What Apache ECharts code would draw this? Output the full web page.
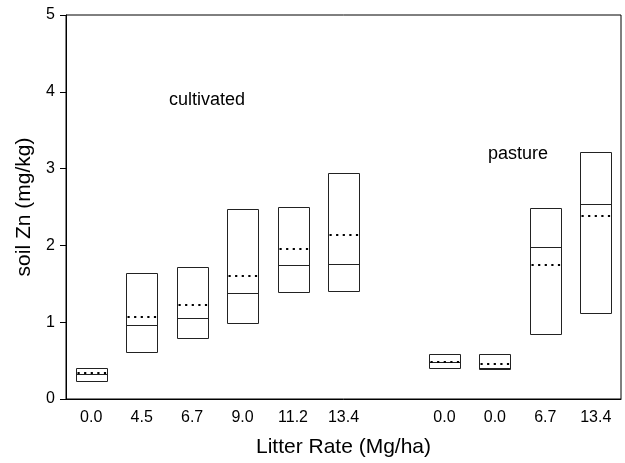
<!DOCTYPE html>
<html>
<head>
<meta charset="utf-8">
<script src="https://cdn.jsdelivr.net/npm/echarts@6/dist/echarts.min.js"></script>
<style>html,body{margin:0;padding:0;background:#fff}#c{width:625px;height:463px}</style>
</head>
<body>
<div id="c"></div>
<script>
// Categories (index 6 is the gap between cultivated and pasture groups)
var categories = ['0.0', '4.5', '6.7', '9.0', '11.2', '13.4', '', '0.0', '0.0', '6.7', '13.4'];
var boxLow    = [0.24, 0.61, 0.79, 0.99, 1.39, 1.40, null, 0.40, 0.385, 0.84, 1.12];
var boxHigh   = [0.41, 1.64, 1.72, 2.47, 2.50, 2.94, null, 0.59, 0.58, 2.49, 3.22];
var medians   = [0.32, 0.96, 1.06, 1.38, 1.74, 1.76, null, 0.48, 0.40, 1.98, 2.54];
var means     = [0.34, 1.07, 1.22, 1.60, 1.95, 2.14, null, 0.48, 0.46, 1.75, 2.38];
var yTicks    = [0, 1, 2, 3, 4, 5];

var data = [];
for (var i = 0; i < categories.length; i++) {
  if (boxLow[i] == null) continue;
  data.push([i, boxLow[i], boxHigh[i], medians[i], means[i]]);
}

var chart = echarts.init(document.getElementById('c'), null, {renderer: 'canvas', width: 625, height: 463});
var FONT = 'Liberation Sans, Arial, Helvetica, sans-serif';

function px(v) { return Math.round(v) + 0.5; }

chart.setOption({
  animation: false,
  backgroundColor: '#fff',
  grid: {left: 66, right: 4, top: 15, bottom: 59, show: true, borderColor: '#000', borderWidth: 1, backgroundColor: 'transparent'},
  xAxis: {
    type: 'category',
    data: categories,
    boundaryGap: true,
    name: 'Litter Rate (Mg/ha)',
    nameLocation: 'middle',
    nameGap: 38,
    nameTextStyle: {fontFamily: FONT, fontSize: 21, color: '#000'},
    axisLine: {lineStyle: {color: '#000', width: 1}},
    axisTick: {alignWithLabel: true, length: 6, lineStyle: {color: '#000'}},
    axisLabel: {fontFamily: FONT, fontSize: 16, color: '#000', margin: 11, interval: 0},
    splitLine: {show: false}
  },
  yAxis: {
    type: 'value',
    min: 0, max: 5, interval: 1,
    name: 'soil Zn (mg/kg)',
    nameLocation: 'middle',
    nameGap: 31,
    nameTextStyle: {fontFamily: FONT, fontSize: 21, color: '#000'},
    axisLine: {show: true, lineStyle: {color: '#000', width: 1}},
    axisTick: {show: true, length: 6, lineStyle: {color: '#000'}},
    axisLabel: {fontFamily: FONT, fontSize: 16, color: '#000', margin: 11,
      formatter: function (v) { return yTicks.indexOf(v) >= 0 ? String(v) : ''; }},
    splitLine: {show: false}
  },
  series: [{
    type: 'custom',
    data: data,
    encode: {x: 0, y: [1, 2, 3, 4]},
    renderItem: function (params, api) {
      var idx = api.value(0);
      var band = api.size([1, 0])[0];
      var w = band * 0.615;
      var c = api.coord([idx, 0])[0];
      var x0 = px(c - w / 2), x1 = px(c + w / 2);
      var yLo = px(api.coord([idx, api.value(1)])[1]);
      var yHi = px(api.coord([idx, api.value(2)])[1]);
      var yMed = px(api.coord([idx, api.value(3)])[1]);
      var yMean = Math.round(api.coord([idx, api.value(4)])[1]);
      return {
        type: 'group',
        children: [
          {type: 'rect', shape: {x: x0, y: yHi, width: x1 - x0, height: yLo - yHi},
           style: {fill: 'none', stroke: '#222', lineWidth: 1}},
          {type: 'line', shape: {x1: x0, y1: yMed, x2: x1, y2: yMed},
           style: {stroke: '#222', lineWidth: 1}},
          {type: 'line', shape: {x1: x0 + 1, y1: yMean, x2: x1, y2: yMean},
           style: {stroke: '#000', lineWidth: 2.2, lineDash: [2.2, 4.4]}}
        ]
      };
    }
  }],
  graphic: [
    {type: 'text', x: 207, y: 100,
     style: {text: 'cultivated', font: '18px ' + FONT, fill: '#000', textAlign: 'center', textVerticalAlign: 'middle'}},
    {type: 'text', x: 518, y: 154,
     style: {text: 'pasture', font: '18px ' + FONT, fill: '#000', textAlign: 'center', textVerticalAlign: 'middle'}}
  ]
});
</script>
</body>
</html>
